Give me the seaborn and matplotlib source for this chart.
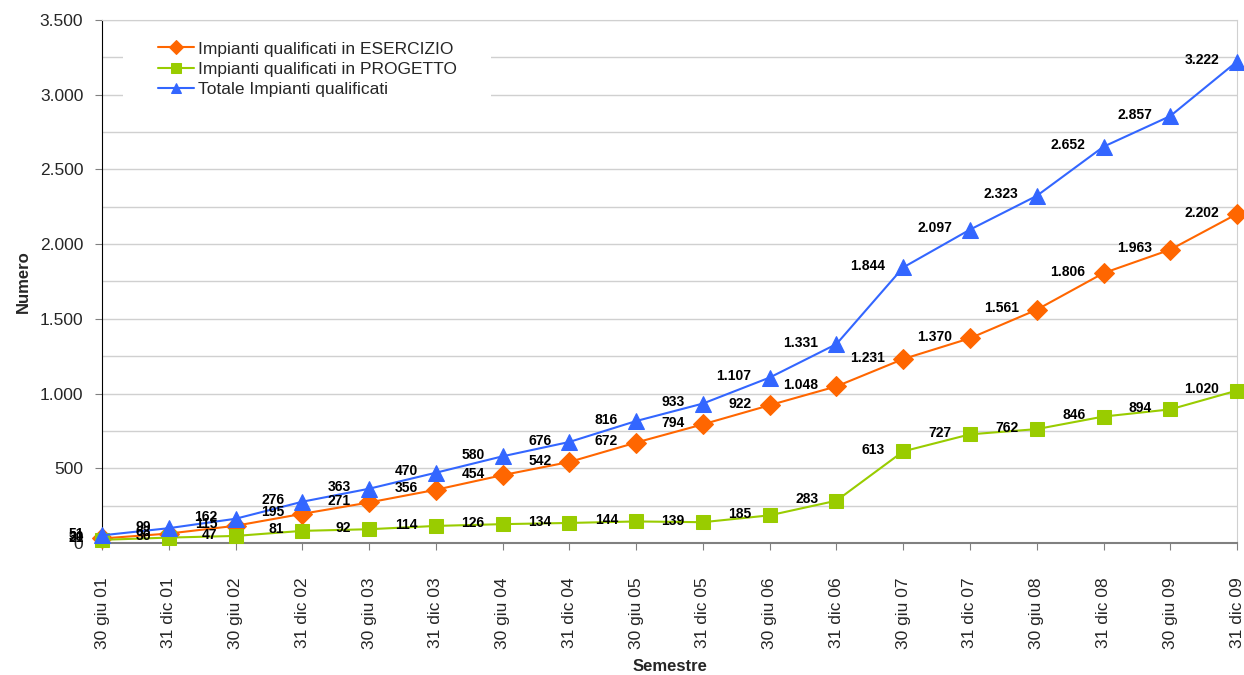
import matplotlib
matplotlib.use("Agg")
import matplotlib.pyplot as plt
from matplotlib.patches import Rectangle
from matplotlib.ticker import FuncFormatter, MultipleLocator
import seaborn as sns
import pandas as pd

# semestri e valori
semestri = ["30 giu 01", "31 dic 01", "30 giu 02", "31 dic 02", "30 giu 03", "31 dic 03",
            "30 giu 04", "31 dic 04", "30 giu 05", "31 dic 05", "30 giu 06", "31 dic 06",
            "30 giu 07", "31 dic 07", "30 giu 08", "31 dic 08", "30 giu 09", "31 dic 09"]
esercizio = [30, 63, 115, 195, 271, 356, 454, 542, 672, 794, 922, 1048,
             1231, 1370, 1561, 1806, 1963, 2202]
progetto = [21, 36, 47, 81, 92, 114, 126, 134, 144, 139, 185, 283,
            613, 727, 762, 846, 894, 1020]
totale = [51, 99, 162, 276, 363, 470, 580, 676, 816, 933, 1107, 1331,
          1844, 2097, 2323, 2652, 2857, 3222]

df = pd.DataFrame({"pos": range(len(semestri)), "semestre": semestri,
                   "esercizio": esercizio, "progetto": progetto, "totale": totale})

sns.set_style("white")
plt.rcParams["font.family"] = ["Liberation Sans", "DejaVu Sans"]


def ita(v, pos=None):
    # separatore delle migliaia all'italiana
    return f"{int(v):,}".replace(",", ".")


fig, ax = plt.subplots(figsize=(12.44, 6.75), dpi=100)
fig.subplots_adjust(left=0.082, right=0.9944, top=0.9704, bottom=0.1956)

serie = [("esercizio", "Impianti qualificati in ESERCIZIO", "#FF6600", "D", 10),
         ("progetto", "Impianti qualificati in PROGETTO", "#99CC00", "s", 10),
         ("totale", "Totale Impianti qualificati", "#3366FF", "^", 12)]

for col, label, color, marker, ms in serie:
    sns.lineplot(data=df, x="pos", y=col, ax=ax, color=color, marker=marker,
                 markersize=ms, markeredgecolor=color, linewidth=1.5, label=label,
                 clip_on=False, zorder=3)
    for x, y in zip(df["pos"], df[col]):
        ax.annotate(ita(y), (x, y), xytext=(-13, 1), textcoords="offset points",
                    ha="right", va="center", fontsize=10, fontweight="bold",
                    color="black", zorder=4)

ax.set_xlim(0, len(semestri) - 1)
ax.set_ylim(0, 3500)
ax.yaxis.set_major_locator(MultipleLocator(500))
ax.yaxis.set_minor_locator(MultipleLocator(250))
ax.yaxis.set_major_formatter(FuncFormatter(ita))
ax.grid(axis="y", which="both", color="#d0d0d0", linewidth=1)
ax.set_axisbelow(True)

ax.set_xticks(df["pos"])
ax.set_xticklabels(semestri, rotation=90, fontsize=12.5)
ax.tick_params(axis="y", which="major", labelsize=12.5, length=5, color="#808080",
               left=True, pad=8.5)
ax.tick_params(axis="x", length=5, color="#808080", bottom=True, pad=20)

for s in ["top", "right"]:
    ax.spines[s].set_color("#d0d0d0")
ax.spines["left"].set_color("black")
ax.spines["bottom"].set_color("#808080")
ax.spines["bottom"].set_linewidth(1.5)

ax.set_xlabel("Semestre", fontsize=12, fontweight="bold")
ax.xaxis.set_label_coords(0.5, -0.222)
ax.set_ylabel("Numero", fontsize=12, fontweight="bold", labelpad=6)

# fondo bianco della legenda
ax.add_patch(Rectangle((0.0185, 0.832), 0.324, 0.153, transform=ax.transAxes,
                       facecolor="white", edgecolor="none", zorder=2))
leg = ax.legend(loc="upper left", bbox_to_anchor=(0.049, 0.959), fontsize=12.5,
                frameon=False, borderpad=0, borderaxespad=0, handlelength=2.1,
                handletextpad=0.25, labelspacing=0.28)
for h in leg.legend_handles:
    h.set_markersize(7)

fig.savefig("out.png", dpi=100)
